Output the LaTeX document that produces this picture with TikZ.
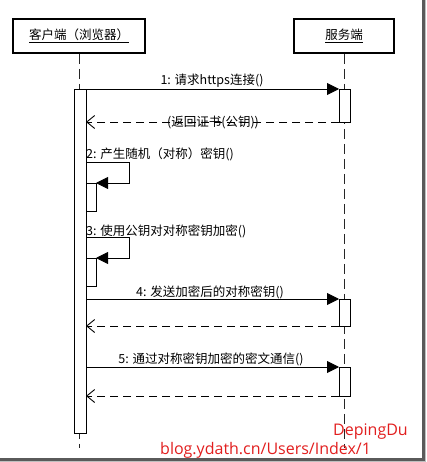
\documentclass[tikz,border=0pt]{standalone}
\usepackage{fontspec}
\setmainfont{Noto Sans CJK SC}
\newfontfamily\wmfont{Open Sans}
\usetikzlibrary{arrows.meta}
\definecolor{wmred}{RGB}{226,30,30}
\definecolor{framegray}{RGB}{90,90,90}
\begin{document}
\begin{tikzpicture}[x=1pt,y=-1pt,
  lbl/.style={font=\fontsize{12.5}{13}\selectfont, inner sep=0pt},
  headbox/.style={draw, line width=1.7pt, minimum height=34pt, inner sep=0pt,
    font=\fontsize{12.5}{13}\selectfont},
  lifeline/.style={draw=black!85, line width=0.9pt, dash pattern=on 10pt off 5pt},
  actbar/.style={draw, fill=white, line width=0.9pt},
  call/.style={draw, line width=0.9pt, -{Triangle[length=12pt,width=12pt]}},
  reply/.style={draw, line width=0.9pt, dash pattern=on 8pt off 5pt,
    -{Straight Barb[length=8pt,width=13pt,line width=0.9pt]}},
  watermark/.style={text=wmred, font=\wmfont\fontsize{16}{16}\selectfont, inner sep=0pt}]
\useasboundingbox (0,0) rectangle (426,462);
\fill[white] (0,0) rectangle (426,462);

% lifeline heads
\node[headbox, minimum width=132pt] (client) at (79,36) {\underline{客户端（浏览器）}};
\node[headbox, minimum width=100pt] (server) at (344,36) {\underline{服务端}};

% lifeline ends
\coordinate (clientend) at (79,448);
\coordinate (serverend) at (344,448);
\draw[lifeline] (client.south) -- (clientend);
\draw[lifeline] (server.south) -- (serverend);

% activation bars
\draw[actbar] (74,89) rectangle (86,433);
\draw[actbar] (339,89) rectangle (350,122);
\draw[actbar] (86,183) rectangle (96,211);
\draw[actbar] (86,258) rectangle (96,286);
\draw[actbar] (339,299) rectangle (350,326);
\draw[actbar] (339,367) rectangle (350,396);

% anchor points on the bars
\coordinate (c1) at (86,89);   \coordinate (s1) at (339,89);
\coordinate (s1r) at (339,122); \coordinate (c1r) at (86,122);
\coordinate (c2) at (86,162);  \coordinate (c2e) at (96,183);
\coordinate (c3) at (86,237);  \coordinate (c3e) at (96,258);
\coordinate (c4) at (86,299);  \coordinate (s4) at (339,299);
\coordinate (s4r) at (339,326); \coordinate (c4r) at (86,326);
\coordinate (c5) at (86,367);  \coordinate (s5) at (339,367);
\coordinate (s5r) at (339,396); \coordinate (c5r) at (86,396);

% 1: request and reply
\draw[call] (c1) -- (s1);
\node[lbl, anchor=base] (m1) at (212,85) {1: 请求https连接()};
\draw[reply] (s1r) -- (c1r);
\node[lbl, anchor=base] (m1r) at (213,127) {(返回证书(公钥))};

% 2: self call
\node[lbl, anchor=base west] (m2) at (86,159) {2: 产生随机（对称）密钥()};
\draw[call] (c2) -- (129,162) -- (129,183) -- (c2e);

% 3: self call
\node[lbl, anchor=base west] (m3) at (86,235) {3: 使用公钥对对称密钥加密()};
\draw[call] (c3) -- (129,237) -- (129,258) -- (c3e);

% 4: send key
\draw[call] (c4) -- (s4);
\node[lbl, anchor=base] (m4) at (210,296) {4: 发送加密后的对称密钥()};
\draw[reply] (s4r) -- (c4r);

% 5: encrypted traffic
\draw[call] (c5) -- (s5);
\node[lbl, anchor=base] (m5) at (211,363) {5: 通过对称密钥加密的密文通信()};
\draw[reply] (s5r) -- (c5r);

% watermark
\node[watermark, anchor=base east] (wm1) at (408,435) {DepingDu};
\node[watermark, anchor=base west] (wm2) at (160,454) {blog.ydath.cn/Users/Index/1};

% frame shadow
\draw[framegray, line width=2.5pt] (423.5,0) -- (423.5,459.5) -- (0,459.5);
\draw[black!25, line width=1.5pt] (425.5,0) -- (425.5,461.5) -- (0,461.5);
\end{tikzpicture}
\end{document}
